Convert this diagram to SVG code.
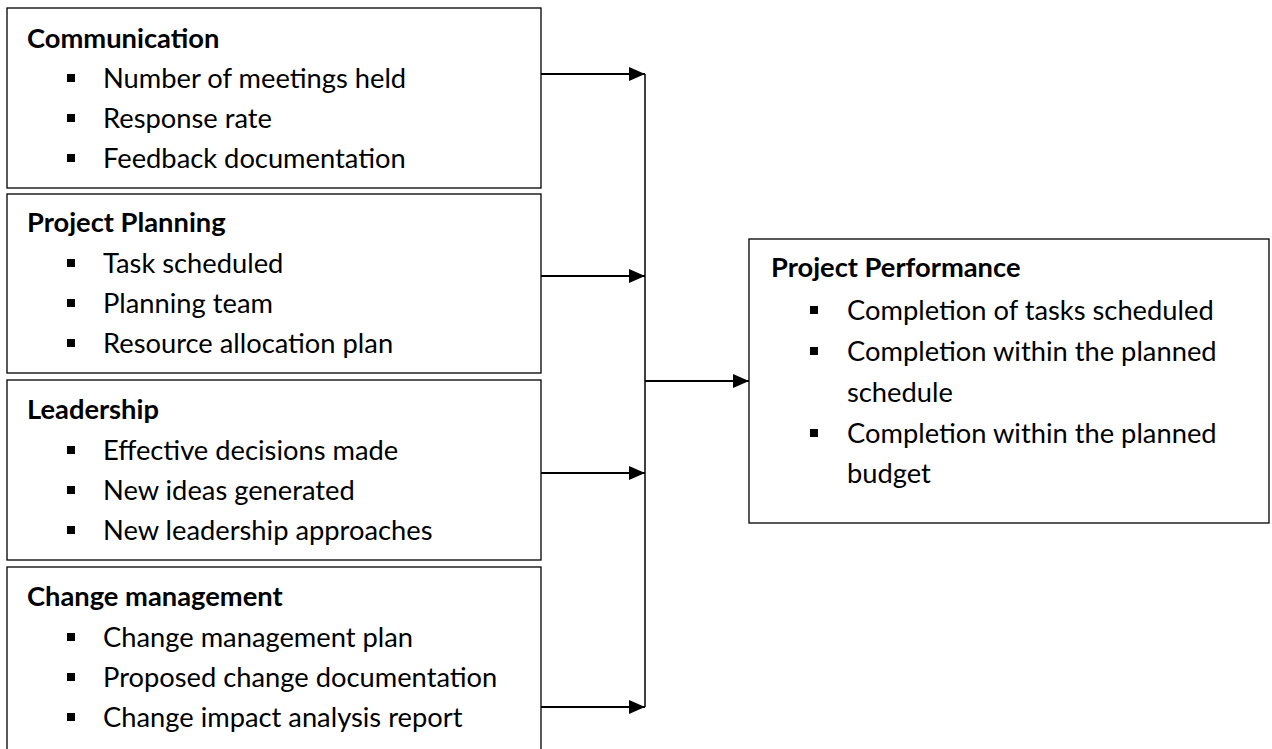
<svg xmlns="http://www.w3.org/2000/svg" width="1272" height="749" viewBox="0 0 1272 749">
<defs>
<marker id="ah" markerUnits="userSpaceOnUse" markerWidth="16" markerHeight="14" refX="16" refY="7" orient="auto">
<path d="M0,0 L16,7 L0,14 z" fill="#000"/>
</marker>
<style>
.box{fill:#fff;stroke:#000;stroke-width:1.3}
.h{font-family:Lato,"Liberation Sans",sans-serif;font-size:27.3px;font-weight:bold;fill:#000}
.t{font-family:Lato,"Liberation Sans",sans-serif;font-size:27.3px;fill:#000}
.b{fill:#000}
.c{stroke:#000;stroke-width:2;fill:none}
.v{stroke:#000;stroke-width:1.5;fill:none}
</style>
</defs>
<rect width="1272" height="749" fill="#fff"/>
<g id="communication">
<rect class="box" x="7" y="8" width="534" height="180"/>
<text class="h" x="27" y="48">Communication</text>
<rect class="b" x="67" y="74" width="8" height="8"/><text class="t" x="103" y="88">Number of meetings held</text>
<rect class="b" x="67" y="114" width="8" height="8"/><text class="t" x="103" y="128">Response rate</text>
<rect class="b" x="67" y="154" width="8" height="8"/><text class="t" x="103" y="168">Feedback documentation</text>
</g>
<g id="planning">
<rect class="box" x="7" y="194" width="534" height="179"/>
<text class="h" x="27" y="232">Project Planning</text>
<rect class="b" x="67" y="259" width="8" height="8"/><text class="t" x="103" y="273">Task scheduled</text>
<rect class="b" x="67" y="299" width="8" height="8"/><text class="t" x="103" y="313">Planning team</text>
<rect class="b" x="67" y="339" width="8" height="8"/><text class="t" x="103" y="353">Resource allocation plan</text>
</g>
<g id="leadership">
<rect class="box" x="7" y="380" width="534" height="180"/>
<text class="h" x="27" y="419">Leadership</text>
<rect class="b" x="67" y="446" width="8" height="8"/><text class="t" x="103" y="460">Effective decisions made</text>
<rect class="b" x="67" y="486" width="8" height="8"/><text class="t" x="103" y="500">New ideas generated</text>
<rect class="b" x="67" y="526" width="8" height="8"/><text class="t" x="103" y="540">New leadership approaches</text>
</g>
<g id="change">
<rect class="box" x="7" y="567" width="534" height="200"/>
<text class="h" x="27" y="606">Change management</text>
<rect class="b" x="67" y="633" width="8" height="8"/><text class="t" x="103" y="647">Change management plan</text>
<rect class="b" x="67" y="673" width="8" height="8"/><text class="t" x="103" y="687">Proposed change documentation</text>
<rect class="b" x="67" y="713" width="8" height="8"/><text class="t" x="103" y="727">Change impact analysis report</text>
</g>
<g id="performance">
<rect class="box" x="749" y="239" width="520" height="284"/>
<text class="h" x="771" y="277">Project Performance</text>
<rect class="b" x="810" y="306" width="8" height="8"/><text class="t" x="847" y="320">Completion of tasks scheduled</text>
<rect class="b" x="810" y="347" width="8" height="8"/><text class="t" x="847" y="361">Completion within the planned</text>
<text class="t" x="847" y="402">schedule</text>
<rect class="b" x="810" y="429" width="8" height="8"/><text class="t" x="847" y="443">Completion within the planned</text>
<text class="t" x="847" y="483">budget</text>
</g>
<g id="connectors">
<line class="c" x1="541" y1="74" x2="645" y2="74" marker-end="url(#ah)"/>
<line class="c" x1="541" y1="276" x2="645" y2="276" marker-end="url(#ah)"/>
<line class="c" x1="541" y1="473" x2="645" y2="473" marker-end="url(#ah)"/>
<line class="c" x1="541" y1="707" x2="645" y2="707" marker-end="url(#ah)"/>
<line class="v" x1="645" y1="74" x2="645" y2="707"/>
<line class="c" x1="645" y1="381" x2="749" y2="381" marker-end="url(#ah)"/>
</g>
</svg>
